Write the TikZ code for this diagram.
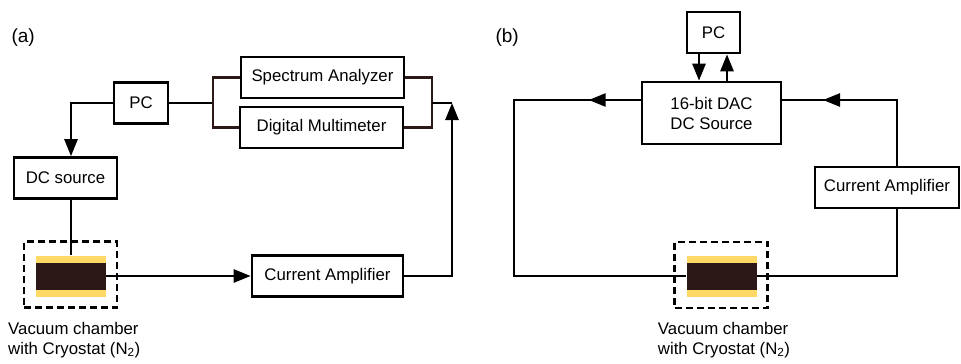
\documentclass[tikz,border=0pt]{standalone}
\usepackage{fontspec}
\setmainfont{Liberation Sans}
\usetikzlibrary{arrows.meta}
\definecolor{gold}{HTML}{FFD966}
\definecolor{chip}{HTML}{2C1816}

\begin{document}
\begin{tikzpicture}[x=1pt,y=-1pt,
	font=\fontsize{16.8}{20}\selectfont,
	box/.style={draw, line width=2.6pt, inner sep=0pt, minimum height=41pt},
	wire/.style={line width=2.6pt},
	brk/.style={line width=2.2pt, draw=chip},
	arr/.style={line width=2.6pt, -{Triangle[length=17pt,width=13pt]}},
	chamber/.style={draw, dashed, dash pattern=on 7pt off 4pt, line width=2.4pt, minimum width=93pt, minimum height=66pt},
	film/.style={fill=gold, minimum width=70pt, minimum height=41pt, inner sep=0pt},
	core/.style={fill=chip, minimum width=70pt, minimum height=27pt, inner sep=0pt}
]
\useasboundingbox (0,0) rectangle (961,364);

% (a)
\node[anchor=west] (labA) at (8,38) {\fontsize{19}{22}\selectfont(a)};
\node[box, minimum width=54pt] (pcA) at (141,103) {PC};
\node[box, minimum width=163pt] (saA) at (322.5,77.5) {Spectrum Analyzer};
\node[box, minimum width=163pt] (dmA) at (321.5,127.5) {Digital Multimeter};
\node[box, minimum width=103pt] (dcA) at (65.5,178) {DC source};
\node[box, minimum width=151pt] (caA) at (327.5,276) {Current Amplifier};
\node[chamber] (chA) at (70.5,274.5) {};
\node[film] (filmA) at (71,276) {};
\node[core] (coreA) at (71,276) {};
\node[anchor=north west, align=left, inner sep=0pt] (txtA) at (8,322) {Vacuum chamber\\with Cryostat (N\textsubscript{2})};

\coordinate (bl) at (213,103);
\coordinate (br) at (432,103);
\coordinate (jn) at (452,103);
\draw[arr] (pcA.west) -| (filmA.north |- dcA.north);
\draw[wire] (dcA.south -| filmA.north) -- (filmA.north);
\draw[wire] (pcA.east) -- (bl);
\draw[brk] (saA.west) -| (bl) |- (dmA.west);
\draw[brk] (saA.east) -| (br) |- (dmA.east);
\draw[wire] (br) -- (jn);
\draw[arr] (caA.east) -| (jn);
\draw[arr] (filmA.east) -- (caA.west);

% (b)
\node[anchor=west] (labB) at (492,38) {\fontsize{19}{22}\selectfont(b)};
\node[box, minimum width=53pt] (pcB) at (713.5,32.5) {PC};
\node[box, minimum width=139pt, minimum height=62pt, align=center] (dacB) at (711.5,113) {16-bit DAC\\DC Source};
\node[box, minimum width=144pt] (caB) at (887,187.5) {Current Amplifier};
\node[chamber] (chB) at (721,275) {};
\node[film] (filmB) at (721.5,276) {};
\node[core] (coreB) at (721.5,276) {};
\node[anchor=north, align=left, inner sep=0pt] (txtB) at (724,322) {Vacuum chamber\\with Cryostat (N\textsubscript{2})};

\coordinate (lB) at (514,100);
\coordinate (rB) at (897,100);
\draw[arr] ([xshift=-14.5pt]pcB.south) -- ([xshift=-14.5pt]pcB.south |- dacB.north);
\draw[arr] ([xshift=13.5pt]pcB.south |- dacB.north) -- ([xshift=13.5pt]pcB.south);
\draw[wire] ([yshift=13pt]dacB.west) -- (lB) |- (filmB.west);
\draw[arr] ([yshift=13pt]dacB.west) -- ++(-52,0);
\draw[wire] (filmB.east) -| (caB.south -| rB);
\draw[wire] (caB.north -| rB) -- (rB) -- ([yshift=13pt]dacB.east);
\draw[arr] (rB) -- ++(-74,0);
\end{tikzpicture}
\end{document}
